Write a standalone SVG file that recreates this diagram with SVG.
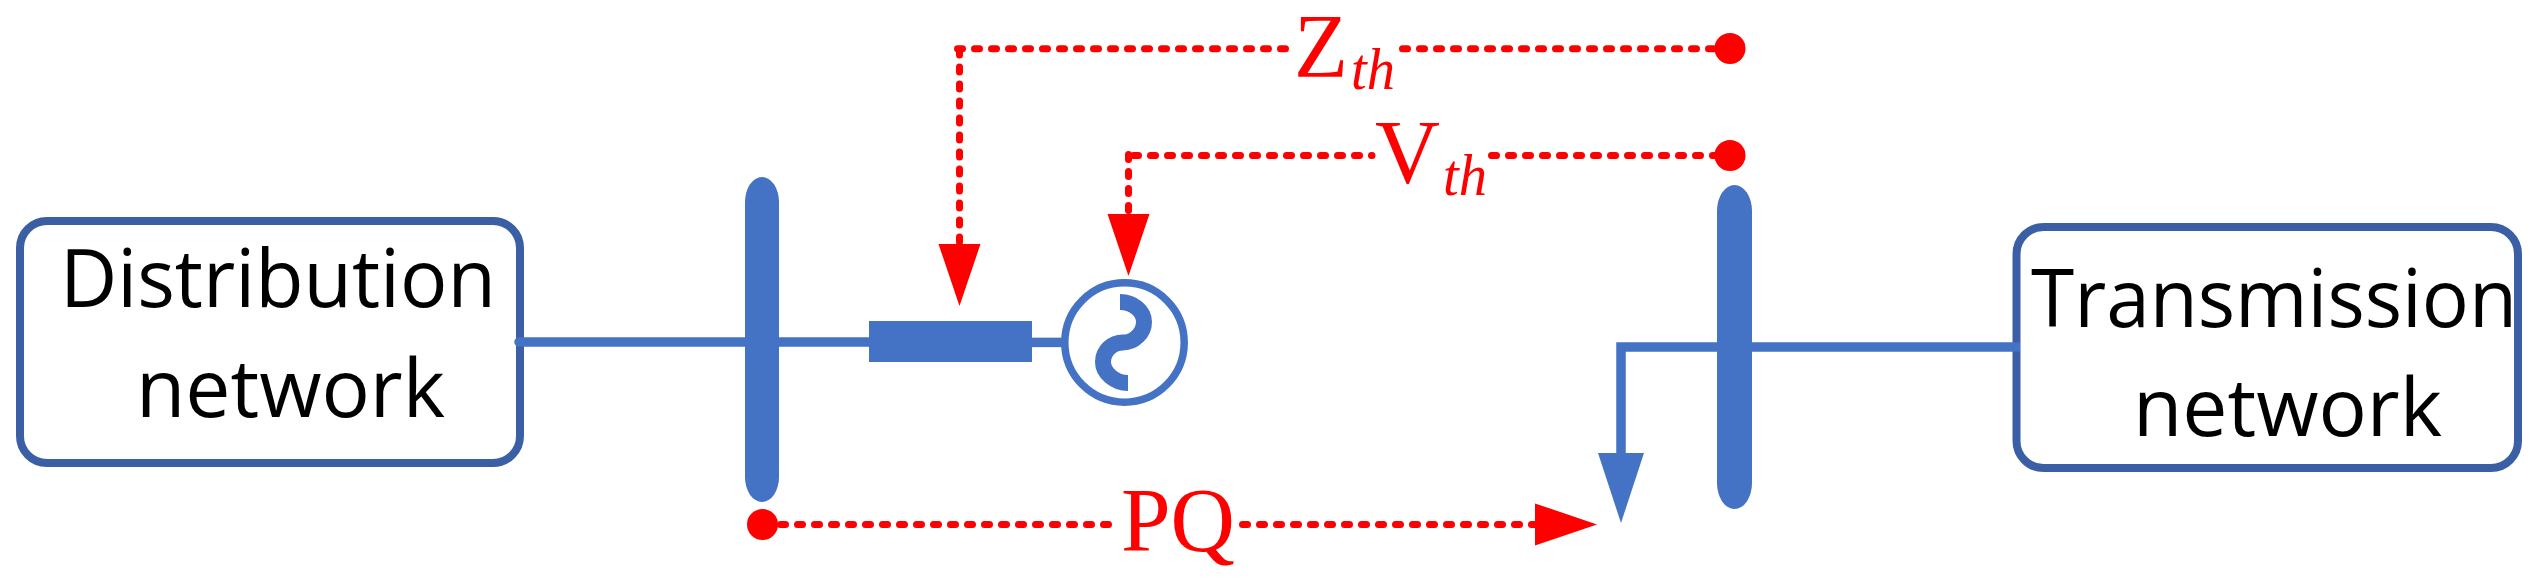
<svg xmlns="http://www.w3.org/2000/svg" width="2534" height="581" viewBox="0 0 2534 581">
  <style>
    .box { fill: #ffffff; stroke: #3a5fa4; stroke-width: 8; }
    .label { font-family: "Open Sans", "Noto Sans", sans-serif; font-size: 80px; fill: #000000; }
    .bar { fill: #4472c4; stroke: none; }
    .wire { fill: none; stroke: #4472c4; stroke-width: 9.5; }
    .probe { fill: none; stroke: #ff0000; stroke-width: 7; stroke-linecap: round; stroke-dasharray: 5 12; }
    .dot { fill: #ff0000; }
    .sym { font-family: "Liberation Serif", "Times New Roman", serif; font-size: 90px; fill: #ff0000; }
    .sub { font-family: "Liberation Serif", "Times New Roman", serif; font-size: 60px; font-style: italic; fill: #ff0000; }
  </style>
  <defs>
    <marker id="redHead" markerUnits="userSpaceOnUse" markerWidth="62" markerHeight="42" viewBox="0 0 62 42" refX="0" refY="21" orient="auto" overflow="visible">
      <path d="M0 0 L62 21 L0 42 Z" fill="#ff0000"/>
    </marker>
    <marker id="blueHead" markerUnits="userSpaceOnUse" markerWidth="70" markerHeight="46" viewBox="0 0 70 46" refX="0" refY="23" orient="auto" overflow="visible">
      <path d="M0 0 L70 23 L0 46 Z" fill="#4472c4"/>
    </marker>
  </defs>

  <g id="distribution-network">
    <rect class="box" x="20" y="221" width="500" height="242" rx="27" ry="27"/>
    <text class="label" x="60" y="307" textLength="436" lengthAdjust="spacingAndGlyphs">Distribution</text>
    <text class="label" x="136" y="417" textLength="309" lengthAdjust="spacingAndGlyphs">network</text>
  </g>

  <g id="transmission-network">
    <rect class="box" x="2016.5" y="227" width="501.5" height="241" rx="27" ry="27"/>
    <text class="label" x="2031" y="327" textLength="486" lengthAdjust="spacingAndGlyphs">Transmission</text>
    <text class="label" x="2133" y="436" textLength="309" lengthAdjust="spacingAndGlyphs">network</text>
  </g>

  <g id="connectors">
    <path class="wire" stroke-linecap="round" d="M519 342 H869"/>
    <path class="wire" d="M1032 342.4 H1062"/>
    <path class="wire" d="M2020 347 H1621 V453" marker-end="url(#blueHead)"/>
    <path class="probe" d="M957.5 48.7 H1289"/>
    <path class="probe" d="M1402.5 48.7 H1715"/>
    <path class="probe" d="M959.5 50 V244" marker-end="url(#redHead)"/>
    <path class="probe" d="M1133.5 155.5 H1372"/>
    <path class="probe" d="M1491.5 155.5 H1715"/>
    <path class="probe" d="M1128.5 154.5 V214" marker-end="url(#redHead)"/>
    <path class="probe" d="M763.5 524.4 H1115"/>
    <path class="probe" d="M1242.5 524.4 H1535" marker-end="url(#redHead)"/>
  </g>

  <g id="bus-distribution">
    <rect class="bar" x="745" y="177" width="34" height="325" rx="17" ry="25"/>
  </g>
  <g id="bus-transmission">
    <rect class="bar" x="1717" y="185" width="35" height="324" rx="17.5" ry="26"/>
  </g>
  <g id="impedance">
    <rect class="bar" x="869" y="321" width="163" height="41"/>
  </g>
  <g id="generator">
    <circle cx="1124.5" cy="342.5" r="59.7" fill="none" stroke="#4472c4" stroke-width="7.5"/>
    <path fill="none" stroke="#4472c4" stroke-width="16" d="M1120 302 C1133 302 1144 311 1144 322 C1144 333 1134 342.5 1123 342.5 C1112 342.5 1103 351 1103 362 C1103 373 1115 383 1128 383"/>
  </g>

  <g id="probe-zth">
    <ellipse class="dot" cx="1730" cy="48.5" rx="15.5" ry="15.5"/>
    <text class="sym" x="1294" y="77" textLength="54" lengthAdjust="spacingAndGlyphs">Z</text>
    <text class="sub" x="1351" y="89" textLength="44" lengthAdjust="spacingAndGlyphs">th</text>
  </g>
  <g id="probe-vth">
    <ellipse class="dot" cx="1730" cy="155.5" rx="15.5" ry="15.5"/>
    <text class="sym" x="1375" y="183" textLength="65" lengthAdjust="spacingAndGlyphs">V</text>
    <text class="sub" x="1443" y="195" textLength="44" lengthAdjust="spacingAndGlyphs">th</text>
  </g>
  <g id="probe-pq">
    <ellipse class="dot" cx="762.5" cy="524.5" rx="15.5" ry="15.5"/>
    <text class="sym" x="1121" y="551" textLength="114" lengthAdjust="spacingAndGlyphs">PQ</text>
  </g>
</svg>
